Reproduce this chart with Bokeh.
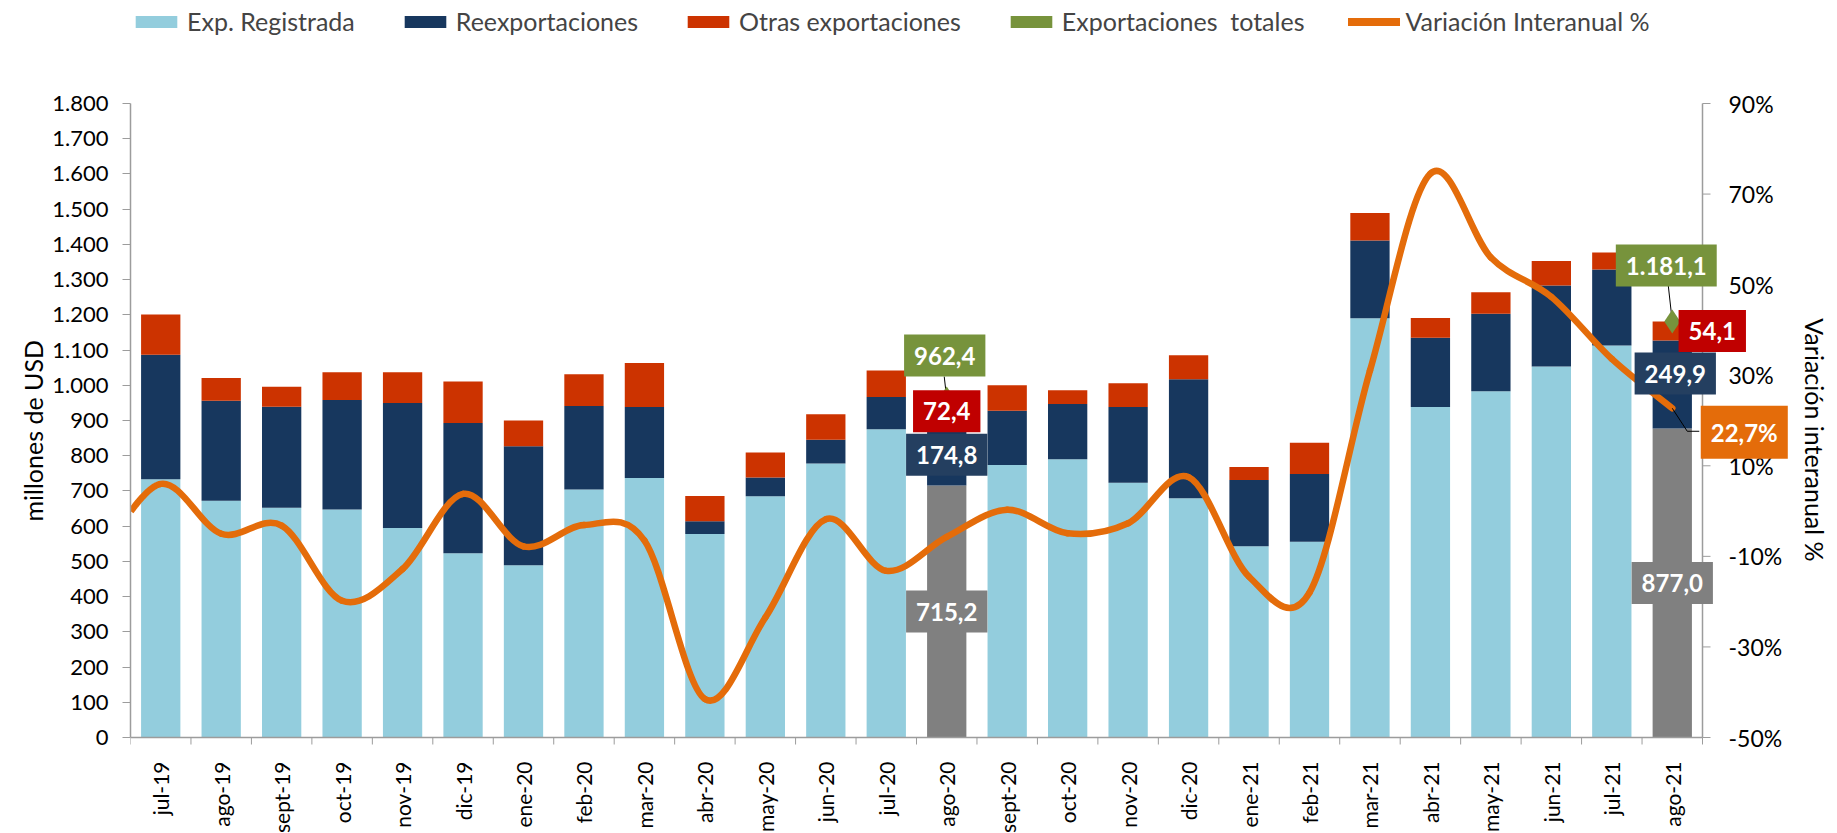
import numpy as np
from bokeh.plotting import figure
from bokeh.models import (Range1d, FixedTicker, Legend, LegendItem, Label, Title,
                          ColumnDataSource)
from bokeh.core.properties import value
from bokeh.embed import file_html
from bokeh.resources import INLINE

# ---------------- data (millones de USD) ----------------
months = ["jul-19", "ago-19", "sept-19", "oct-19", "nov-19", "dic-19", "ene-20",
          "feb-20", "mar-20", "abr-20", "may-20", "jun-20", "jul-20", "ago-20",
          "sept-20", "oct-20", "nov-20", "dic-20", "ene-21", "feb-21", "mar-21",
          "abr-21", "may-21", "jun-21", "jul-21", "ago-21"]
exp_registrada = [733, 672, 652, 647, 595, 523, 489, 704, 737, 578, 685, 778, 875,
                  715.2, 774, 790, 723, 679, 543, 556, 1190, 938, 983, 1053, 1113, 877.0]
reexportaciones = [354, 284, 287, 311, 355, 370, 338, 237, 201, 36, 53, 67, 92,
                   174.8, 154, 157, 215, 338, 188, 192, 221, 197, 220, 230, 216, 249.9]
otras_exportaciones = [114, 65, 57, 79, 87, 118, 73, 90, 125, 72, 71, 73, 75,
                       72.4, 72, 39, 68, 68, 37, 89, 78, 56, 61, 70, 48, 54.1]
exportaciones_totales_lbl = ["962,4", "1.181,1"]
# variación interanual (%)
variacion = [6.0, -5.0, -3.2, -19.8, -12.8, 3.8, -7.8, -3.1, -6.5, -41.5, -23.5,
             -1.8, -13.2, -5.7, 0.3, -4.9, -2.7, 7.5, -14.5, -18.0, 31.0, 74.5,
             56.0, 47.3, 33.6, 22.7]
variacion_jun19 = -10.0   # previous month, only its last stretch enters the chart

left_ticks = list(range(0, 1801, 100))
left_tick_labels = ["0", "100", "200", "300", "400", "500", "600", "700", "800", "900",
                    "1.000", "1.100", "1.200", "1.300", "1.400", "1.500", "1.600",
                    "1.700", "1.800"]
right_ticks = [-50, -30, -10, 10, 30, 50, 70, 90]
right_tick_labels = ["-50%", "-30%", "-10%", "10%", "30%", "50%", "70%", "90%"]
highlight = [13, 25]   # ago-20, ago-21

# ---------------- styles / layout ----------------
LIGHT = "#93CDDD"
NAVY = "#17375E"
RED = "#CC3300"
GRAY = "#808080"
GREEN = "#77933C"
ORANGE = "#E46C0A"
RED_BOX = "#C00000"
NAVY_BOX = "#243F60"
AXIS = "#9C9C9C"
FONT = "Lato"

n = len(months)
FIG_W, BORDER_L, BORDER_B = 1837, 130, 86
PLOT_W, PLOT_H = 1572, 634          # area between the two value axes
TOP_GAP, BELOW = 103, 10            # px above the 1.800 line / below the zero line
FRAME_W = FIG_W - BORDER_L
FRAME_H = TOP_GAP + PLOT_H + BELOW
CPX = n / PLOT_W                    # categories per px
UPX = 1800.0 / PLOT_H               # USD units per px
PPX = 140.0 / PLOT_H                # % per px

xs = list(range(n))
light = np.array(exp_registrada, dtype=float)
dark = np.array(reexportaciones, dtype=float)
red = np.array(otras_exportaciones, dtype=float)
top1 = light
top2 = light + dark
top3 = light + dark + red
light_colors = [GRAY if i in highlight else LIGHT for i in xs]
src = ColumnDataSource(dict(x=xs, top1=top1, top2=top2, top3=top3, c1=light_colors))

p = figure(frame_width=FRAME_W, frame_height=FRAME_H,
           x_range=Range1d(-0.5, -0.5 + FRAME_W * CPX),
           y_range=Range1d(-BELOW * UPX, (FRAME_H - BELOW) * UPX),
           output_backend="svg", toolbar_location=None,
           min_border_left=BORDER_L, min_border_right=0,
           min_border_top=0, min_border_bottom=BORDER_B)
p.outline_line_color = None
p.grid.visible = False
p.extra_y_ranges = {"pct": Range1d(-50 - BELOW * PPX, -50 + (FRAME_H - BELOW) * PPX)}

BW = 0.65
r_light = p.vbar(x="x", bottom=0, top="top1", width=BW, fill_color="c1",
                 line_color=None, source=src)
r_dark = p.vbar(x="x", bottom="top1", top="top2", width=BW, fill_color=NAVY,
                line_color=None, source=src)
r_red = p.vbar(x="x", bottom="top2", top="top3", width=BW, fill_color=RED,
               line_color=None, source=src)

# category axis line and boundary ticks at the zero line
bounds = [i - 0.5 for i in range(n + 1)]
p.segment(x0=[bounds[0]], y0=[0], x1=[bounds[-1]], y1=[0],
          line_color=AXIS, line_width=1.5)
p.segment(x0=bounds, y0=[0] * len(bounds), x1=bounds, y1=[-7 * UPX] * len(bounds),
          line_color=AXIS, line_width=1)

# smoothed line (Catmull-Rom through the monthly values, drawn as Bezier pieces)
px = [-1.0] + [float(i) for i in xs]
py = [variacion_jun19] + list(variacion)
m = len(px)
x0s, y0s, x1s, y1s, cx0s, cy0s, cx1s, cy1s = ([] for _ in range(8))
for i in range(m - 1):
    a = i - 1 if i > 0 else i
    d = i + 2 if i + 2 < m else i + 1
    x0s.append(px[i]); y0s.append(py[i])
    x1s.append(px[i + 1]); y1s.append(py[i + 1])
    cx0s.append(px[i] + (px[i + 1] - px[a]) / 6.0)
    cy0s.append(py[i] + (py[i + 1] - py[a]) / 6.0)
    cx1s.append(px[i + 1] - (px[d] - px[i]) / 6.0)
    cy1s.append(py[i + 1] - (py[d] - py[i]) / 6.0)
p.bezier(x0=x0s[1:], y0=y0s[1:], x1=x1s[1:], y1=y1s[1:], cx0=cx0s[1:], cy0=cy0s[1:],
         cx1=cx1s[1:], cy1=cy1s[1:], line_color=ORANGE, line_width=6.5,
         line_cap="round", y_range_name="pct")
# first piece: only the part right of the value axis
def bez_pt(t, a0, c0, c1, a1):
    return ((1 - t) ** 3) * a0 + 3 * ((1 - t) ** 2) * t * c0 + 3 * (1 - t) * t * t * c1 + t ** 3 * a1
ts = np.linspace(0, 1, 60)
bx = bez_pt(ts, x0s[0], cx0s[0], cx1s[0], x1s[0])
by = bez_pt(ts, y0s[0], cy0s[0], cy1s[0], y1s[0])
keep = bx >= -0.5
p.line(x=bx[keep], y=by[keep], line_color=ORANGE, line_width=6.5, line_cap="butt",
       y_range_name="pct")

# legend proxies (not visible in the plot)
r_tot_proxy = p.vbar(x=[0], bottom=[0], top=[0], width=BW, fill_color=GREEN, line_color=None)
r_line_proxy = p.line(x=[-3, -2], y=[0, 0], line_color=ORANGE, line_width=8,
                      line_cap="round", y_range_name="pct")

# total markers at highlighted months and leader lines
hx = [float(i) for i in highlight]
htot = [float(top3[i]) for i in highlight]
lead_px = [(-2.5, 22), (-4, 36)]
p.segment(x0=hx, y0=htot,
          x1=[hx[k] + lead_px[k][0] * CPX for k in range(2)],
          y1=[htot[k] + lead_px[k][1] * UPX for k in range(2)],
          line_color="black", line_width=1)
p.scatter(x=hx, y=htot, marker="diamond", size=24, fill_color=GREEN, line_color=None)

last = highlight[1]
p.line(x=[last, last + 15 * CPX, last + 27 * CPX],
       y=[variacion[last], variacion[last] - 23 * PPX, variacion[last] - 23 * PPX],
       line_color="black", line_width=1, y_range_name="pct")

# ---------------- axes ----------------
xa = p.xaxis[0]
xa.ticker = FixedTicker(ticks=xs)
xa.major_label_overrides = {i: months[i] for i in xs}
xa.major_label_orientation = np.pi / 2
xa.axis_line_color = None
xa.major_tick_line_color = None
xa.minor_tick_line_color = None
xa.major_label_standoff = 8
xa.major_label_text_font = FONT
xa.major_label_text_font_size = "21px"
xa.major_label_text_color = "black"

ya = p.yaxis[0]
ya.bounds = (0, 1800)
ya.ticker = FixedTicker(ticks=left_ticks)
ya.major_label_overrides = {t: l for t, l in zip(left_ticks, left_tick_labels)}
ya.minor_tick_line_color = None
ya.major_tick_out = 8
ya.major_tick_in = 0
ya.major_tick_line_color = AXIS
ya.axis_line_color = AXIS
ya.axis_line_width = 1.5
ya.major_label_standoff = 14
ya.major_label_text_font = FONT
ya.major_label_text_font_size = "22px"
ya.major_label_text_color = "black"

# value-axis title, centred on the 0..1.800 span (the frame runs higher for the legend)
p.add_layout(Title(text="millones de  USD", align="left", vertical_align="top",
                   offset=226, standoff=0, text_font=FONT, text_font_size="25px",
                   text_font_style="normal", text_color="black"), "left")

# secondary (right) value axis, at the right end of the categories
xr = n - 0.5
p.segment(x0=[xr], y0=[min(right_ticks)], x1=[xr], y1=[max(right_ticks)],
          line_color=AXIS, line_width=1.5, y_range_name="pct")
p.segment(x0=[xr] * len(right_ticks), y0=right_ticks,
          x1=[xr + 8 * CPX] * len(right_ticks), y1=right_ticks,
          line_color=AXIS, line_width=1, y_range_name="pct")
p.text(x=[xr] * len(right_ticks), y=right_ticks, text=right_tick_labels,
       x_offset=26, text_align="left", text_baseline="middle",
       text_font=value(FONT), text_font_size="23px", text_color="black",
       y_range_name="pct")
p.text(x=[xr], y=[15], text=["Variación  interanual %"], angle=-np.pi / 2,
       x_offset=112, text_align="center", text_baseline="middle",
       text_font=value(FONT), text_font_size="25px", text_color="black",
       y_range_name="pct")

# ---------------- data labels ----------------
def es(v):
    s = f"{v:,.1f}"
    return s.replace(",", "X").replace(".", ",").replace("X", ".")

PAD = dict(left=10, right=10, top=12, bottom=12)

def box(x, y, text, color, dx=0, dy=0, rng="default"):
    lab = Label(x=x, y=y, x_offset=dx, y_offset=dy, text=text,
                text_align="center", text_baseline="middle",
                text_color="white", text_font=FONT, text_font_style="bold",
                text_font_size="24px", background_fill_color=color,
                padding=PAD, y_range_name=rng)
    p.add_layout(lab)

label_off = {  # (dx, dy) in screen px for each highlighted month
    13: dict(tot=(-2, 43), red=(0, 0), dark=(0, 0), gray=(0, 0)),
    25: dict(tot=(-6, 56), red=(40, 0), dark=(3, 11), gray=(0, 0), pct=(72, -24)),
}
for k, i in enumerate(highlight):
    o = label_off[i]
    box(i, top3[i], exportaciones_totales_lbl[k], GREEN, *o["tot"])
    box(i, (top2[i] + top3[i]) / 2, es(red[i]), RED_BOX, *o["red"])
    box(i, (top1[i] + top2[i]) / 2, es(dark[i]), NAVY_BOX, *o["dark"])
    box(i, top1[i] / 2, es(light[i]), GRAY, *o["gray"])
box(last, variacion[last], es(variacion[last]) + "%", ORANGE,
    *label_off[last]["pct"], rng="pct")

# ---------------- legend ----------------
legend = Legend(items=[
    LegendItem(label="Exp. Registrada", renderers=[r_light], index=0),
    LegendItem(label="Reexportaciones", renderers=[r_dark]),
    LegendItem(label="Otras exportaciones", renderers=[r_red]),
    LegendItem(label="Exportaciones  totales", renderers=[r_tot_proxy]),
    LegendItem(label="Variación Interanual %", renderers=[r_line_proxy]),
], orientation="horizontal", location=(0, 711), glyph_width=52, glyph_height=15,
    label_standoff=5, spacing=44, padding=0, margin=0, border_line_color=None,
    background_fill_alpha=0, label_text_font=FONT, label_text_font_size="25px",
    label_height=20)
p.add_layout(legend)

open("out.html", "w").write(file_html(p, INLINE))
